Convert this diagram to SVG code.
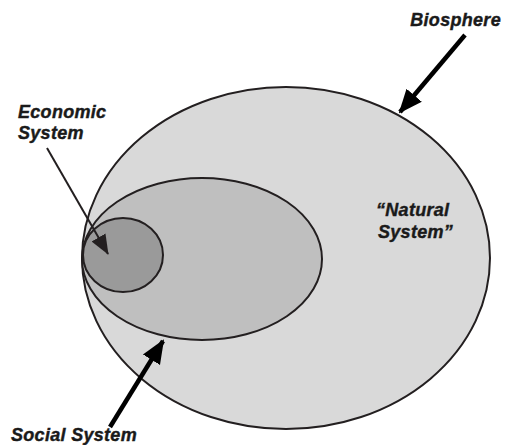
<svg xmlns="http://www.w3.org/2000/svg" width="508" height="445" viewBox="0 0 508 445">
<style>
.lbl{font-family:"Liberation Sans",Arial,sans-serif;font-weight:bold;font-style:italic;font-size:18px;letter-spacing:0.3px;fill:#1a1a1a;stroke:#1a1a1a;stroke-width:0.4}
.sys{stroke:#231f20;stroke-width:2}
.thick{stroke:#000;stroke-width:4.5;fill:none}
.thin{stroke:#231f20;stroke-width:2;fill:none}
</style>
<defs>
<marker id="headBig" markerUnits="userSpaceOnUse" viewBox="0 0 24 24" markerWidth="24" markerHeight="24" refX="22" refY="12" orient="auto">
<path d="M0,2 L24,12 L0,22 Z" fill="#000"/>
</marker>
<marker id="headSmall" markerUnits="userSpaceOnUse" viewBox="0 0 20 18" markerWidth="20" markerHeight="18" refX="19" refY="9" orient="auto">
<path d="M0,1 L20,9 L0,17 Z" fill="#231f20"/>
</marker>
</defs>
<rect width="508" height="445" fill="#fff"/>
<g id="biosphere">
<ellipse class="sys" cx="286" cy="258" rx="204" ry="171" fill="#d9d9d9"/>
</g>
<g id="social-system">
<ellipse class="sys" cx="202" cy="259" rx="120" ry="81" fill="#bfbfbf"/>
</g>
<g id="economic-system">
<ellipse class="sys" cx="123" cy="255" rx="40" ry="37" fill="#9a9a9a"/>
</g>
<g id="connectors">
<line class="thick" x1="465" y1="35" x2="400" y2="112" marker-end="url(#headBig)"/>
<line class="thick" x1="110" y1="427" x2="163" y2="341" marker-end="url(#headBig)"/>
<line class="thin" x1="47" y1="148" x2="108" y2="254" marker-end="url(#headSmall)"/>
</g>
<g id="labels">
<text class="lbl" x="18" y="118">Economic</text>
<text class="lbl" x="18" y="139">System</text>
<text class="lbl" x="501" y="26" text-anchor="end">Biosphere</text>
<text class="lbl" x="376" y="216">“Natural</text>
<text class="lbl" x="378" y="238">System”</text>
<text class="lbl" x="11" y="441">Social System</text>
</g>
</svg>
